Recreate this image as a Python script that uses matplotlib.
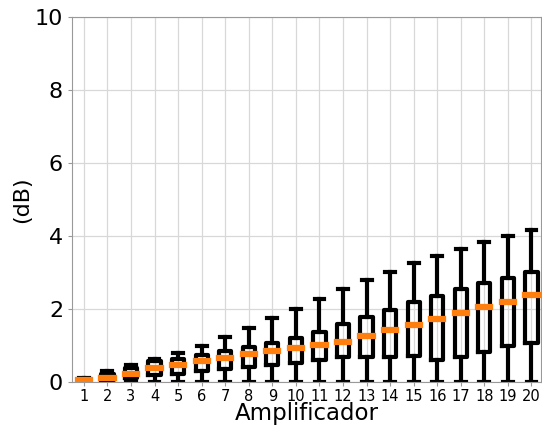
import matplotlib
matplotlib.use('Agg')
import matplotlib.pyplot as plt

# Box statistics per amplifier
amplifiers = list(range(1, 21))
whisk_low = [0.0] * 20
q1 = [0.03, 0.05, 0.10, 0.20, 0.23, 0.29, 0.35, 0.40, 0.47, 0.53,
      0.59, 0.69, 0.69, 0.69, 0.72, 0.60, 0.69, 0.83, 0.99, 1.08]
medians = [0.06, 0.12, 0.23, 0.37, 0.45, 0.56, 0.65, 0.77, 0.85, 0.93,
           1.00, 1.10, 1.26, 1.41, 1.55, 1.72, 1.88, 2.06, 2.18, 2.37]
q3 = [0.08, 0.22, 0.38, 0.56, 0.64, 0.74, 0.85, 0.97, 1.06, 1.19,
      1.37, 1.59, 1.79, 1.97, 2.20, 2.36, 2.54, 2.70, 2.84, 3.00]
whisk_high = [0.10, 0.29, 0.47, 0.64, 0.79, 0.99, 1.22, 1.49, 1.75, 2.01,
              2.27, 2.54, 2.78, 3.01, 3.25, 3.45, 3.63, 3.83, 4.00, 4.15]

stats = []
for i in range(len(amplifiers)):
    stats.append({
        'label': str(amplifiers[i]),
        'whislo': whisk_low[i],
        'q1': q1[i],
        'med': medians[i],
        'q3': q3[i],
        'whishi': whisk_high[i],
        'fliers': [],
    })

fig = plt.figure(figsize=(5.42, 4.34), dpi=100)
ax = fig.add_axes([0.133, 0.12, 0.865, 0.841])

ax.bxp(stats, positions=amplifiers, widths=0.52, showfliers=False,
       boxprops=dict(color='black', linewidth=3.0),
       whiskerprops=dict(color='black', linewidth=3.0),
       capprops=dict(color='black', linewidth=3.0),
       medianprops=dict(color='#ff7f0e', linewidth=4.5,
                        solid_capstyle='projecting'),
       capwidths=0.42)

ax.set_ylim(0, 10)
ax.set_xlim(0.5, 20.4)
ax.set_yticks([0, 2, 4, 6, 8, 10])
ax.grid(True, color='#d8d8d8', linewidth=0.9)
ax.set_axisbelow(True)
for s in ax.spines.values():
    s.set_color('#999999')
ax.tick_params(axis='y', labelsize=16, length=3, color='#999999')
ax.tick_params(axis='x', labelsize=10.5, length=3, color='#999999', pad=2)
ax.set_xlabel('Amplificador', fontsize=16.5, labelpad=-1)
ax.set_ylabel('(dB)', fontsize=16)
ax.yaxis.set_label_coords(-0.085, 0.5)

fig.savefig('out.png', dpi=100)
